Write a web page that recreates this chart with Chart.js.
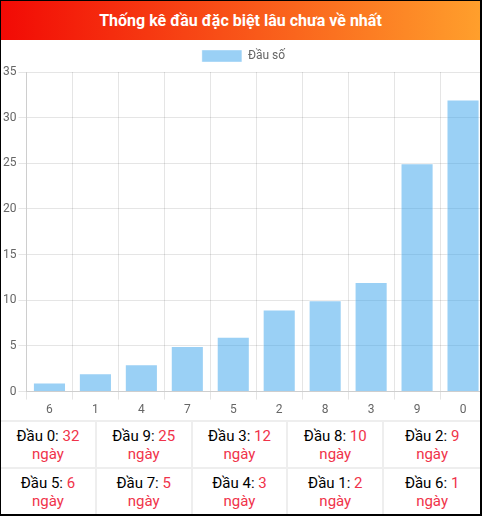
<!DOCTYPE html>
<html>
<head>
<meta charset="utf-8">
<script src="https://cdn.jsdelivr.net/npm/chart.js@4.4.0/dist/chart.umd.min.js"></script>
<style>
  body { margin: 0; font-family: Roboto, "Noto Sans", sans-serif; }
  .box { width: 479px; border: 1px solid #000; border-right-width: 2px; border-bottom-width: 2px; background: #fff; overflow: hidden; }
  .head { height: 39px; line-height: 39px; text-align: center; color: #fff; font-weight: bold; font-size: 16px;
          background: linear-gradient(to right, #f20a05, #ff9f2c); }
  canvas { display: block; }
  .grid { display: grid; grid-template-columns: repeat(5, 1fr); border-top: 2px solid #eee; }
  .cell { height: 40px; border-right: 2px solid #eee; border-bottom: 2px solid #eee; text-align: center;
          font-size: 15px; line-height: 18px; padding-top: 5px; box-sizing: content-box; }
  .cell:nth-child(5n) { border-right: none; }
  .cell:nth-child(n+6) { border-bottom: none; }
  .cell span, .cell div { color: #f0334a; }
</style>
</head>
<body>
<div class="box">
  <div class="head">Thống kê đầu đặc biệt lâu chưa về nhất</div>
  <canvas id="chart" width="485" height="380"></canvas>
  <div class="grid" id="cells"></div>
</div>
<script>
// Đầu số và số ngày chưa về
var dauLabels = ['6', '1', '4', '7', '5', '2', '8', '3', '9', '0'];
var soNgay = [1, 2, 3, 5, 6, 9, 10, 12, 25, 32];
var yMax = 35;
var yStep = 5;

Chart.defaults.font.family = 'Roboto, "Noto Sans", sans-serif';
Chart.defaults.color = '#666';

new Chart(document.getElementById('chart'), {
    type: 'bar',
    data: {
        labels: dauLabels,
        datasets: [{
            label: 'Đầu số',
            data: soNgay,
            backgroundColor: 'rgba(54, 162, 235, 0.5)',
            borderColor: 'rgba(255, 255, 255, 0.4)',
            borderWidth: 1
        }]
    },
    options: {
        responsive: false,
        animation: false,
        plugins: {
            legend: { labels: { boxWidth: 40, boxHeight: 12 } }
        },
        scales: {
            y: {
                min: 0,
                max: yMax,
                ticks: { stepSize: yStep, padding: 2 },
                grid: { color: 'rgba(0,0,0,0.1)' }
            },
            x: {
                grid: { offset: true, color: 'rgba(0,0,0,0.1)' }
            }
        }
    }
});

// Bảng bên dưới: sắp xếp theo số ngày giảm dần
var thuTu = dauLabels.map(function (d, i) { return i; });
thuTu.sort(function (a, b) { return soNgay[b] - soNgay[a]; });
var html = '';
for (var i = 0; i < thuTu.length; i++) {
    var k = thuTu[i];
    html += '<div class="cell">Đầu ' + dauLabels[k] + ': <span>' + soNgay[k] + '</span><div>ngày</div></div>';
}
document.getElementById('cells').innerHTML = html;
</script>
</body>
</html>
